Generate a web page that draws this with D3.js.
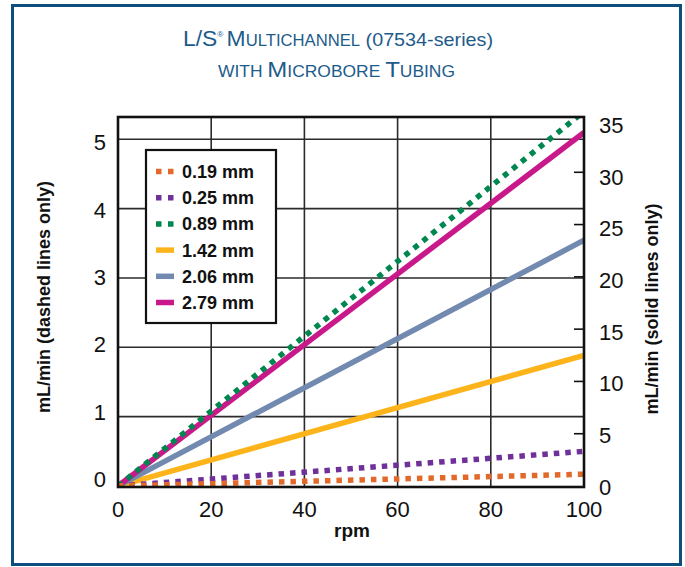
<!DOCTYPE html>
<html><head><meta charset="utf-8">
<script src="https://cdn.jsdelivr.net/npm/d3@7/dist/d3.min.js"></script>
<style>html,body{margin:0;padding:0;background:#fff;}svg{display:block;}</style>
</head><body>
<script>
// ---- data ----
const rpm = [0, 100];
const xTicks = [0, 20, 40, 60, 80, 100];
const leftTicks = [0, 1, 2, 3, 4, 5];
const rightTicks = [0, 5, 10, 15, 20, 25, 30, 35];
const seriesNames = ["0.19 mm", "0.25 mm", "0.89 mm", "1.42 mm", "2.06 mm", "2.79 mm"];
const seriesAxis = ["left", "left", "left", "right", "right", "right"];
const seriesColors = ["#e2692a", "#70309a", "#00874f", "#fdb41b", "#7289b0", "#c8188a"];
const flow019 = [0, 0.17];   // mL/min, left axis
const flow025 = [0, 0.50];
const flow089 = [0, 5.40];
const flow142 = [0, 12.5];   // mL/min, right axis
const flow206 = [0, 23.5];
const flow279 = [0, 33.8];
const seriesValues = [flow019, flow025, flow089, flow142, flow206, flow279];
const drawOrder = [3, 4, 5, 2, 1, 0];

const W = 685, H = 567;
const svg = d3.select("body").append("svg").attr("width", W).attr("height", H);
const font = "'Liberation Sans', Arial, sans-serif";
const narrow = "'Liberation Sans Narrow', 'Liberation Sans', Arial, sans-serif";

// outer border
svg.append("rect").attr("x", 12.5).attr("y", 5.5).attr("width", 668).attr("height", 559)
  .attr("fill", "#fff").attr("stroke", "#0e4e7e").attr("stroke-width", 3);

// title
const titleColor = "#1d5b8b";
const t1 = svg.append("text").attr("x", 183).attr("y", 46).attr("fill", titleColor)
  .attr("font-family", font).attr("textLength", 310).attr("lengthAdjust", "spacingAndGlyphs");
t1.append("tspan").attr("font-size", 22).text("L/S");
t1.append("tspan").attr("font-size", 8).attr("dy", -9).text("®");
t1.append("tspan").attr("font-size", 22).attr("dy", 9).attr("dx", 3).text("M");
t1.append("tspan").attr("font-size", 16).text("ULTICHANNEL");
t1.append("tspan").attr("font-family", narrow).attr("font-size", 19).text(" (07534-series)");
const t2 = svg.append("text").attr("x", 218).attr("y", 77).attr("fill", titleColor)
  .attr("font-family", font).attr("textLength", 237).attr("lengthAdjust", "spacingAndGlyphs");
t2.append("tspan").attr("font-size", 16).text("WITH ");
t2.append("tspan").attr("font-size", 22).text("M");
t2.append("tspan").attr("font-size", 16).text("ICROBORE ");
t2.append("tspan").attr("font-size", 22).text("T");
t2.append("tspan").attr("font-size", 16).text("UBING");

// scales
const x = d3.scaleLinear().domain([0, 100]).range([118, 584]);
const yL = d3.scaleLinear().domain([0, 5]).range([486, 139.3]);
const yR = d3.scaleLinear().domain([0, 35]).range([486, 120]);
const yLlab = d3.scaleLinear().domain([0, 5]).range([479, 142.5]);
const yRlab = d3.scaleLinear().domain([0, 35]).range([487, 125]);
const plotTop = 117, plotBottom = 487;

// grid
const grid = svg.append("g").attr("stroke", "#2b2b2b").attr("stroke-width", 1.6);
grid.selectAll("line.v").data(xTicks.slice(1, -1)).join("line").attr("class", "v")
  .attr("x1", d => x(d)).attr("x2", d => x(d)).attr("y1", plotTop).attr("y2", plotBottom);
grid.selectAll("line.h").data(leftTicks.slice(1)).join("line").attr("class", "h")
  .attr("x1", x(0)).attr("x2", x(100)).attr("y1", d => yL(d)).attr("y2", d => yL(d));
// right inward ticks
svg.append("g").attr("stroke", "#111").attr("stroke-width", 1.6)
  .selectAll("line").data(rightTicks.slice(1, -1)).join("line")
  .attr("x1", x(100) - 10).attr("x2", x(100)).attr("y1", d => yR(d)).attr("y2", d => yR(d));

// clip
svg.append("clipPath").attr("id", "plotclip").append("rect")
  .attr("x", x(0)).attr("y", plotTop).attr("width", x(100) - x(0)).attr("height", plotBottom - plotTop);

const lines = svg.append("g").attr("clip-path", "url(#plotclip)");
drawOrder.forEach(i => {
  const ys = seriesAxis[i] === "left" ? yL : yR;
  const line = d3.line().x((d, j) => x(rpm[j])).y(d => ys(d));
  const dashed = seriesAxis[i] === "left";
  lines.append("path").datum(seriesValues[i])
    .attr("d", line).attr("fill", "none")
    .attr("stroke", seriesColors[i])
    .attr("stroke-width", 5.5)
    .attr("stroke-dasharray", dashed ? "5.5,6" : null);
});

// frame
svg.append("rect").attr("x", x(0)).attr("y", plotTop).attr("width", x(100) - x(0)).attr("height", plotBottom - plotTop)
  .attr("fill", "none").attr("stroke", "#111").attr("stroke-width", 2.6);

// tick labels
svg.append("g").selectAll("text").data(xTicks).join("text")
  .attr("x", d => x(d)).attr("y", 517).attr("text-anchor", "middle")
  .attr("font-family", narrow).attr("font-size", 22).attr("fill", "#111").text(d => d);
svg.append("g").selectAll("text").data(leftTicks).join("text")
  .attr("x", 106).attr("y", d => yLlab(d)).attr("dy", "0.36em").attr("text-anchor", "end")
  .attr("font-family", narrow).attr("font-size", 22).attr("fill", "#111").text(d => d);
svg.append("g").selectAll("text").data(rightTicks).join("text")
  .attr("x", 599).attr("y", d => yRlab(d)).attr("dy", "0.36em").attr("text-anchor", "start")
  .attr("font-family", narrow).attr("font-size", 22).attr("fill", "#111").text(d => d);

// axis titles
svg.append("text").attr("x", 352).attr("y", 537).attr("text-anchor", "middle")
  .attr("font-family", font).attr("font-weight", "bold").attr("font-size", 19).attr("fill", "#111").text("rpm");
svg.append("text").attr("transform", "translate(50,297) rotate(-90)").attr("text-anchor", "middle")
  .attr("font-family", font).attr("font-weight", "bold").attr("font-size", 18).attr("fill", "#111")
  .text("mL/min (dashed lines only)");
svg.append("text").attr("transform", "translate(658,309) rotate(-90)").attr("text-anchor", "middle")
  .attr("font-family", font).attr("font-weight", "bold").attr("font-size", 18).attr("fill", "#111")
  .text("mL/min (solid lines only)");

// legend
const lg = svg.append("g");
lg.append("rect").attr("x", 146).attr("y", 150).attr("width", 130).attr("height", 173)
  .attr("fill", "#fff").attr("stroke", "#111").attr("stroke-width", 2.2);
seriesNames.forEach((name, i) => {
  const cy = 171.5 + i * 26.2;
  const g = lg.append("g");
  g.append("line").attr("x1", 156).attr("x2", 174).attr("y1", cy).attr("y2", cy)
    .attr("stroke", seriesColors[i]).attr("stroke-width", 5.5)
    .attr("stroke-dasharray", seriesAxis[i] === "left" ? "5.5,6.5" : null);
  g.append("text").attr("x", 182).attr("y", cy).attr("dy", "0.36em")
    .attr("font-family", font).attr("font-weight", "bold").attr("font-size", 18).attr("fill", "#111")
    .text(name);
});
</script>
</body></html>
